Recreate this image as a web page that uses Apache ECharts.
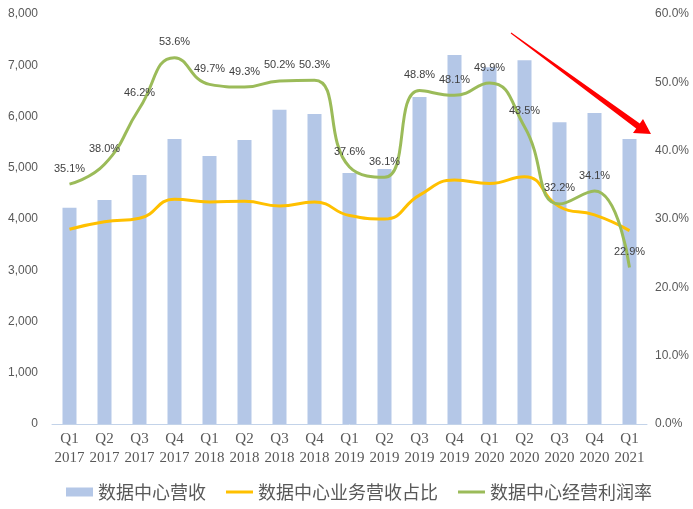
<!DOCTYPE html>
<html>
<head>
<meta charset="utf-8">
<script src="https://cdn.jsdelivr.net/npm/echarts@6/dist/echarts.min.js"></script>
<style>
  html, body { margin: 0; padding: 0; background: #fff; }
  #chart { width: 693px; height: 509px; }
</style>
</head>
<body>
<div id="chart"></div>
<script>
// quarters, Q1 2017 .. Q1 2021
var quarters = ['Q1\n2017', 'Q2\n2017', 'Q3\n2017', 'Q4\n2017', 'Q1\n2018', 'Q2\n2018', 'Q3\n2018', 'Q4\n2018',
    'Q1\n2019', 'Q2\n2019', 'Q3\n2019', 'Q4\n2019', 'Q1\n2020', 'Q2\n2020', 'Q3\n2020', 'Q4\n2020', 'Q1\n2021'];

// 数据中心营收 (left axis)
var revenue = [4220, 4370, 4860, 5560, 5230, 5540, 6130, 6050, 4900, 4975, 6380, 7200, 6960, 7100, 5890, 6070, 5560];

// 数据中心业务营收占比 (%)
var share = [28.5, 29.6, 30.1, 32.9, 32.5, 32.6, 31.9, 32.5, 30.5, 30.0, 33.5, 35.7, 35.2, 36.2, 31.8, 30.6, 28.3];

// 数据中心经营利润率 (%)
var margin = [35.1, 38.0, 46.2, 53.6, 49.7, 49.3, 50.2, 50.3, 37.6, 36.1, 48.8, 48.1, 49.9, 43.5, 32.2, 34.1, 22.9];

var names = ['数据中心营收', '数据中心业务营收占比', '数据中心经营利润率'];

var lineIcon = 'path://M0,0 L0,0 M0,3 L27,3 L27,6 L0,6 Z M27,9 L27,9';

var chart = echarts.init(document.getElementById('chart'));

var option = {
    backgroundColor: '#ffffff',
    animation: false,
    grid: { left: 52, right: 46, top: 14, bottom: 85 },
    legend: {
        left: 61,
        top: 478,
        itemWidth: 27,
        itemHeight: 9,
        itemGap: 20,
        textStyle: { fontFamily: 'Noto Sans CJK SC', fontSize: 18, color: '#595959' },
        data: [
            { name: names[0], icon: 'rect' },
            { name: names[1], icon: lineIcon, itemStyle: { color: '#FFC000' } },
            { name: names[2], icon: lineIcon, itemStyle: { color: '#9BBB59' } }
        ]
    },
    xAxis: {
        type: 'category',
        data: quarters,
        axisLine: { lineStyle: { color: '#C3D3E9', width: 1 } },
        axisTick: { show: false },
        axisLabel: {
            interval: 0,
            margin: 6,
            color: '#595959',
            fontFamily: 'Liberation Serif',
            fontSize: 15,
            lineHeight: 19
        }
    },
    yAxis: [
        {
            type: 'value',
            min: 0,
            max: 8000,
            interval: 1000,
            splitLine: { show: false },
            axisLine: { show: false },
            axisTick: { show: false },
            axisLabel: {
                margin: 14,
                color: '#595959',
                fontFamily: 'Liberation Sans',
                fontSize: 12,
                formatter: function (v) { return v.toLocaleString('en-US'); }
            }
        },
        {
            type: 'value',
            min: 0,
            max: 60,
            interval: 10,
            splitLine: { show: false },
            axisLine: { show: false },
            axisTick: { show: false },
            axisLabel: {
                margin: 8,
                color: '#595959',
                fontFamily: 'Liberation Sans',
                fontSize: 12,
                formatter: function (v) { return v.toFixed(1) + '%'; }
            }
        }
    ],
    series: [
        {
            name: names[0],
            type: 'bar',
            data: revenue,
            barWidth: 14,
            itemStyle: { color: '#B4C7E7' }
        },
        {
            name: names[1],
            type: 'line',
            yAxisIndex: 1,
            data: share,
            smooth: true,
            symbol: 'none',
            lineStyle: { color: '#FFC000', width: 3 },
            itemStyle: { color: '#FFC000' }
        },
        {
            name: names[2],
            type: 'line',
            yAxisIndex: 1,
            data: margin,
            smooth: true,
            symbol: 'circle',
            symbolSize: 0,
            lineStyle: { color: '#9BBB59', width: 3 },
            itemStyle: { color: '#9BBB59' },
            label: {
                show: true,
                position: 'top',
                distance: 10,
                color: '#404040',
                fontFamily: 'Liberation Sans',
                fontSize: 11,
                formatter: function (p) { return p.value.toFixed(1) + '%'; }
            }
        }
    ],
    graphic: [
        {
            type: 'polygon',
            z: 100,
            shape: {
                points: [[511.3, 32.6], [639.8, 123.6], [643, 119], [651, 134], [633, 133], [636.2, 128.4], [510.7, 33.4]]
            },
            style: { fill: '#FF0000' }
        }
    ]
};

chart.setOption(option);
</script>
</body>
</html>
